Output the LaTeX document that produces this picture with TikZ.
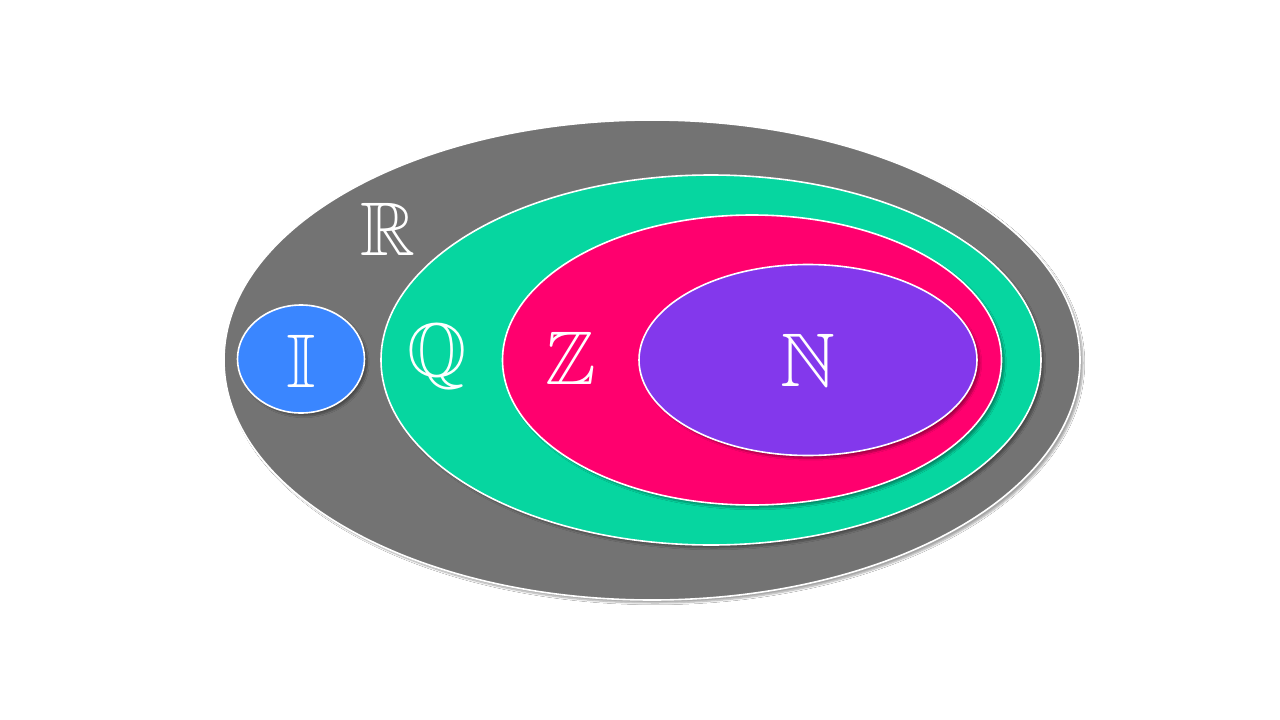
\documentclass[tikz,border=0pt]{standalone}
\usepackage{amssymb}
\usetikzlibrary{shapes.geometric,shadows.blur}
\definecolor{rgray}{HTML}{737373}
\definecolor{qgreen}{HTML}{06D6A0}
\definecolor{zred}{HTML}{FF006E}
\definecolor{npurple}{HTML}{8338EC}
\definecolor{iblue}{HTML}{3A86FF}
\tikzset{
  setellipse/.style={ellipse, draw=white, line width=1.6pt, inner sep=0pt,
    blur shadow={shadow xshift=3pt, shadow yshift=-3pt, shadow blur steps=6, shadow opacity=35}},
  setlabel/.style={text=white, inner sep=0pt, font=\fontsize{76}{76}\selectfont},
}
\begin{document}
\begin{tikzpicture}[x=1pt,y=-1pt]
\fill[white] (0,0) rectangle (1280,720);
\useasboundingbox (0,0) rectangle (1280,720);
\node[setellipse, fill=rgray, minimum width=856pt, minimum height=480pt] (R) at (652,360) {};
\node[setellipse, fill=qgreen, minimum width=660pt, minimum height=370pt] (Q) at (711,360) {};
\node[setellipse, fill=zred, minimum width=499pt, minimum height=290pt] (Z) at (752,360) {};
\node[setellipse, fill=npurple, minimum width=338pt, minimum height=191pt] (N) at (808,360) {};
\node[setellipse, fill=iblue, minimum width=127pt, minimum height=108pt] (I) at (301,359) {};
\node[setlabel] (lR) at (388,229) {$\mathbb{R}$};
\node[setlabel] (lI) at (301,361) {$\mathbb{I}$};
\node[setlabel] (lQ) at (437,357) {$\mathbb{Q}$};
\node[setlabel] (lZ) at (571,358) {$\mathbb{Z}$};
\node[setlabel] (lN) at (808,360) {$\mathbb{N}$};
\end{tikzpicture}
\end{document}
